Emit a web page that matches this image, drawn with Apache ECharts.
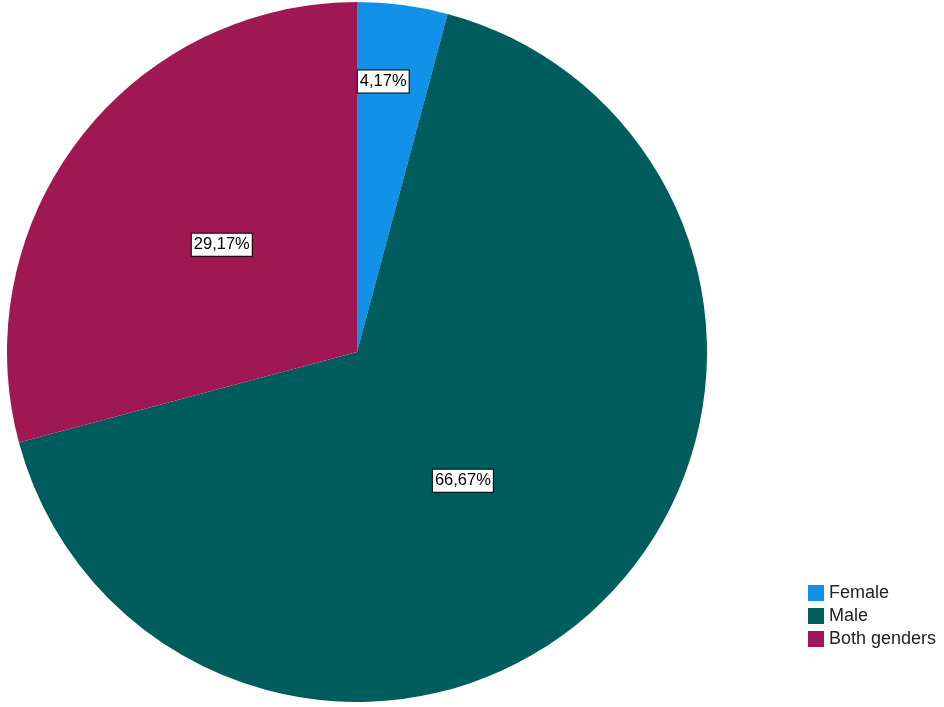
<!DOCTYPE html>
<html><head><meta charset="utf-8">
<script src="https://cdn.jsdelivr.net/npm/echarts@6/dist/echarts.min.js"></script>
<style>html,body{margin:0;padding:0;background:#fff}#c{width:944px;height:707px}</style>
</head><body><div id="c"></div>
<script>
const categories = ['Female', 'Male', 'Both genders'];
const counts = [1, 16, 7];
const colors = ['#1192e8', '#005d5d', '#9f1853'];

const total = counts.reduce((a, b) => a + b, 0);
const labelShift = [[3, -94], [-20, 3], [6, 1]];
const chart = echarts.init(document.getElementById('c'));
chart.setOption({
  animation: false,
  backgroundColor: '#ffffff',
  legend: {
    orient: 'vertical', left: 808, top: 584, padding: 0,
    itemWidth: 16, itemHeight: 16, itemGap: 5, icon: 'rect',
    textStyle: { fontFamily: 'Liberation Sans, Arial', fontSize: 18, lineHeight: 16, color: '#222' },
    data: categories
  },
  series: [{
    type: 'pie',
    center: [357, 352],
    radius: [0, 350],
    startAngle: 90,
    clockwise: true,
    avoidLabelOverlap: false,
    itemStyle: { borderWidth: 0 },
    label: {
      show: true, position: 'inside',
      formatter: p => (p.value / total * 100).toFixed(2).replace('.', ',') + '%',
      fontFamily: 'Liberation Sans, Arial', fontSize: 16.5, color: '#000',
      backgroundColor: '#fff', borderColor: '#000', borderWidth: 1,
      padding: [3, 2, 2, 2]
    },
    labelLayout: function (params) {
      const s = labelShift[params.dataIndex];
      return { dx: s[0], dy: s[1] };
    },
    emphasis: { disabled: true },
    data: categories.map((n, i) => ({ name: n, value: counts[i], itemStyle: { color: colors[i] } }))
  }]
});
</script></body></html>
